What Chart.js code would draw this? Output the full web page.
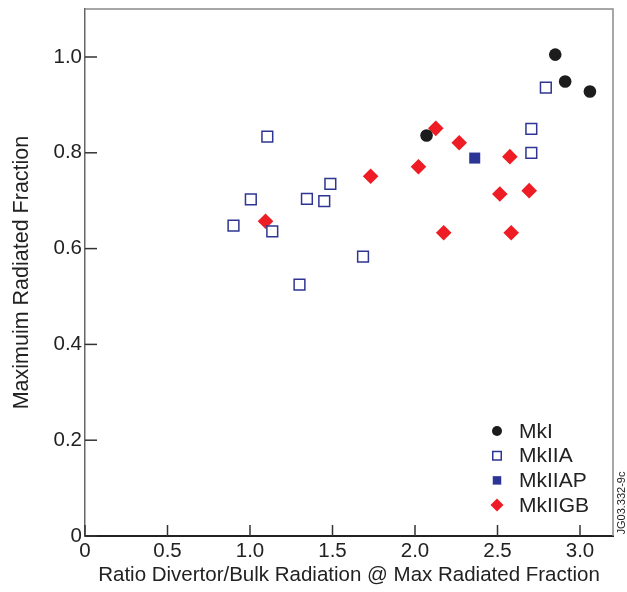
<!DOCTYPE html>
<html>
<head>
<meta charset="utf-8">
<script src="https://cdn.jsdelivr.net/npm/chart.js@4.4.0/dist/chart.umd.min.js"></script>
<style>
  html, body { margin: 0; padding: 0; background: #fff; }
  #wrap { width: 627px; height: 592px; }
</style>
</head>
<body>
<div id="wrap"><canvas id="grafico"></canvas></div>
<script>
// valores
const mkIx = [2.07, 2.85, 2.91, 3.06];
const mkIy = [0.836, 1.005, 0.949, 0.928];

const mkIIAx = [0.90, 1.005, 1.105, 1.135, 1.30, 1.345, 1.45, 1.487, 1.685, 2.705, 2.705, 2.793];
const mkIIAy = [0.648, 0.703, 0.834, 0.636, 0.525, 0.704, 0.699, 0.735, 0.583, 0.850, 0.800, 0.936];

const mkIIAPx = [2.362];
const mkIIAPy = [0.789];

const mkIIGBx = [1.094, 1.731, 2.021, 2.126, 2.174, 2.268, 2.514, 2.575, 2.583, 2.692];
const mkIIGBy = [0.657, 0.751, 0.771, 0.851, 0.633, 0.821, 0.714, 0.792, 0.633, 0.721];

const xTicks = [0, 0.5, 1.0, 1.5, 2.0, 2.5, 3.0];
const xTickLabels = ['0', '0.5', '1.0', '1.5', '2.0', '2.5', '3.0'];
const yTicks = [0, 0.2, 0.4, 0.6, 0.8, 1.0];
const yTickLabels = ['0', '0.2', '0.4', '0.6', '0.8', '1.0'];

const fonte = "'Liberation Sans', Arial, Helvetica, sans-serif";

function pontos(xs, ys) {
    return xs.map((x, i) => ({ x, y: ys[i] }));
}

// caixa, ticks para dentro, legenda e o codigo da figura
const extras = {
    id: 'extras',
    beforeDatasetsDraw(chart) {
        const { ctx, chartArea: a, scales } = chart;
        ctx.save();
        ctx.strokeStyle = '#8a8a8a';
        ctx.lineWidth = 1.5;
        ctx.beginPath();
        ctx.moveTo(a.left, a.top);
        ctx.lineTo(a.right, a.top);
        ctx.lineTo(a.right, a.bottom);
        ctx.stroke();

        ctx.strokeStyle = '#333';
        ctx.lineWidth = 1.5;
        xTicks.forEach(v => {
            const px = scales.x.getPixelForValue(v);
            ctx.beginPath();
            ctx.moveTo(px, a.bottom);
            ctx.lineTo(px, a.bottom - 11);
            ctx.stroke();
        });
        yTicks.forEach(v => {
            const py = scales.y.getPixelForValue(v);
            ctx.beginPath();
            ctx.moveTo(a.left, py);
            ctx.lineTo(a.left + 12, py);
            ctx.stroke();
        });
        ctx.restore();
    },
    afterDraw(chart) {
        const { ctx } = chart;
        ctx.save();
        const mx = 497, tx = 519, y0 = 431, passo = 24.7;
        const tamanhos = [5, 6, 6, 6.5];
        chart.data.datasets.forEach((ds, i) => {
            const y = y0 + i * passo;
            ctx.fillStyle = ds.backgroundColor;
            ctx.strokeStyle = ds.borderColor;
            ctx.lineWidth = ds.borderWidth;
            Chart.helpers.drawPoint(ctx, { pointStyle: ds.pointStyle, radius: tamanhos[i], borderWidth: ds.borderWidth }, mx, y);
            ctx.fillStyle = '#222';
            ctx.font = '21px ' + fonte;
            ctx.textAlign = 'left';
            ctx.textBaseline = 'middle';
            ctx.fillText(ds.label, tx, y + 1);
        });

        ctx.translate(622, 503);
        ctx.rotate(-Math.PI / 2);
        ctx.font = '11px ' + fonte;
        ctx.fillStyle = '#222';
        ctx.textAlign = 'center';
        ctx.textBaseline = 'middle';
        ctx.fillText('JG03.332-9c', 0, 0);
        ctx.restore();
    }
};

const ctx = document.getElementById('grafico').getContext('2d');
const grafico = new Chart(ctx, {
    type: 'scatter',
    data: {
        datasets: [
            {
                label: 'MkI',
                data: pontos(mkIx, mkIy),
                pointStyle: 'circle',
                pointRadius: 6.3,
                backgroundColor: '#1c1c1c',
                borderColor: '#1c1c1c',
                borderWidth: 0
            },
            {
                label: 'MkIIA',
                data: pontos(mkIIAx, mkIIAy),
                pointStyle: 'rect',
                pointRadius: 7.6,
                backgroundColor: '#ffffff',
                borderColor: '#2e3592',
                borderWidth: 1.5
            },
            {
                label: 'MkIIAP',
                data: pontos(mkIIAPx, mkIIAPy),
                pointStyle: 'rect',
                pointRadius: 7.8,
                backgroundColor: '#2b3595',
                borderColor: '#2b3595',
                borderWidth: 0
            },
            {
                label: 'MkIIGB',
                data: pontos(mkIIGBx, mkIIGBy),
                pointStyle: 'rectRot',
                pointRadius: 7.8,
                backgroundColor: '#ee1c24',
                borderColor: '#ee1c24',
                borderWidth: 0
            }
        ]
    },
    options: {
        responsive: true,
        maintainAspectRatio: false,
        animation: false,
        layout: { padding: { top: 7, right: 14, left: 0, bottom: 0 } },
        plugins: {
            legend: { display: false },
            tooltip: { enabled: false }
        },
        scales: {
            x: {
                type: 'linear',
                min: 0,
                max: 3.2,
                afterBuildTicks: s => { s.ticks = xTicks.map(v => ({ value: v })); },
                afterFit: s => { s.height = 56; s.paddingLeft = 0; s.paddingRight = 0; },
                grid: { display: false, drawTicks: false },
                border: { display: true, color: '#222', width: 2 },
                ticks: {
                    padding: 3,
                    color: '#222',
                    font: { family: fonte, size: 20.5 },
                    callback: (v, i) => xTickLabels[i]
                },
                title: {
                    display: true,
                    text: 'Ratio Divertor/Bulk Radiation @ Max Radiated Fraction',
                    color: '#222',
                    font: { family: fonte, size: 20.5 },
                    padding: { top: 0, bottom: 4 }
                }
            },
            y: {
                type: 'linear',
                min: 0,
                max: 1.1,
                afterBuildTicks: s => { s.ticks = yTicks.map(v => ({ value: v })); },
                afterFit: s => { s.width = 85; s.paddingTop = 0; s.paddingBottom = 0; },
                grid: { display: false, drawTicks: false },
                border: { display: true, color: '#666', width: 1.5 },
                ticks: {
                    padding: 3,
                    color: '#222',
                    font: { family: fonte, size: 20.5 },
                    callback: (v, i) => yTickLabels[i]
                },
                title: {
                    display: true,
                    text: 'Maximuim Radiated Fraction',
                    color: '#222',
                    font: { family: fonte, size: 21.5 },
                    padding: { top: 9, bottom: 0 }
                }
            }
        }
    },
    plugins: [extras]
});
</script>
</body>
</html>
